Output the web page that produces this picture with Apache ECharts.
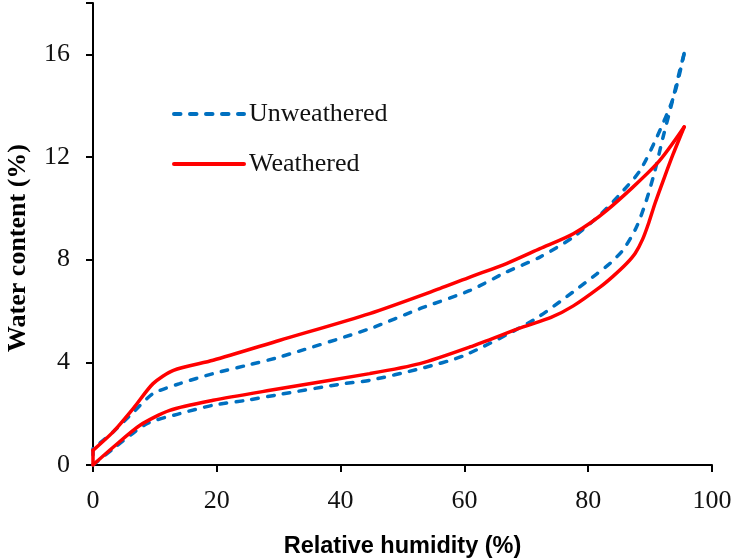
<!DOCTYPE html>
<html>
<head>
<meta charset="utf-8">
<script src="https://cdn.jsdelivr.net/npm/echarts@6/dist/echarts.min.js"></script>
<style>html,body{margin:0;padding:0;background:#fff;}#c{width:731px;height:559px;}</style>
</head>
<body>
<div id="c"></div>
<script>
// Relative humidity (%) / water content (%) readings
const unwAdsX = [0, 3.3, 8.7, 14, 19.4, 24.8, 30.2, 40, 44.7, 52.8, 60, 71.1, 77.6, 81.4, 83.5, 85.7, 87.8, 89.4, 90.8, 92.1, 93.5, 94.8, 95.5];
const unwAdsY = [0, 0.64, 1.61, 2.0, 2.33, 2.52, 2.75, 3.15, 3.3, 3.75, 4.27, 5.64, 6.75, 7.45, 7.85, 8.4, 9.27, 10.31, 11.48, 12.78, 14.08, 15.38, 16.03];
const unwDesX = [95.5, 93.8, 91.1, 88.4, 85.7, 82.1, 77.6, 72.2, 66.8, 60.9, 52.8, 44.7, 30.2, 24.8, 19.4, 14, 9.7, 6.5, 3.3, 0];
const unwDesY = [16.03, 14.34, 12.78, 11.48, 10.7, 9.79, 8.88, 8.1, 7.52, 6.8, 6.09, 5.31, 4.21, 3.88, 3.56, 3.17, 2.78, 2.05, 1.3, 0.64];
const wthAdsX = [0, 3.3, 7.6, 12.4, 19.4, 28.6, 44.7, 52.8, 60.9, 69.5, 74, 77.6, 81.9, 84, 86.2, 87.6, 88.8, 89.8, 90.8, 92.3, 93.7, 95.5];
const wthAdsY = [0, 0.7, 1.55, 2.13, 2.52, 2.91, 3.56, 3.95, 4.6, 5.38, 5.75, 6.2, 6.93, 7.35, 7.85, 8.25, 8.8, 9.45, 10.2, 11.2, 12.1, 13.17];
const wthDesX = [95.5, 91.1, 83, 77.6, 72.2, 66.8, 60.9, 56, 44.7, 30.2, 19.4, 13, 9.7, 6.5, 3.3, 0];
const wthDesY = [13.17, 11.74, 9.92, 9.01, 8.43, 7.85, 7.32, 6.87, 5.9, 4.86, 4.08, 3.69, 3.17, 2.2, 1.3, 0.57];

const xTicks = [0, 20, 40, 60, 80, 100];
const yTicks = [0, 4, 8, 12, 16];
const seriesNames = ['Unweathered', 'Weathered'];

function pairs(xs, ys) { return xs.map((x, i) => [x, ys[i]]); }
// closing segment: end of desorption branch back to start of adsorption branch
function closing(desX, desY, adsX, adsY) {
  const n = desX.length - 1;
  return [[desX[n], desY[n]], [adsX[0], adsY[0]]];
}

const blueStyle = { color: '#0070C0', width: 3.5, type: [6.5, 9.5], cap: 'round' };
const redStyle = { color: '#FF0000', width: 3.5, type: 'solid', cap: 'round' };

function mk(name, data, ls, smooth) {
  return {
    name: name, type: 'line', data: data, smooth: smooth,
    showSymbol: false, symbol: 'none', lineStyle: ls, itemStyle: { color: ls.color },
    animation: false, z: name === 'Weathered' ? 3 : 2
  };
}

const serif = 'Liberation Serif';
const chart = echarts.init(document.getElementById('c'));
chart.setOption({
  animation: false,
  grid: { left: 93, right: 19, top: 3, bottom: 94, containLabel: false, outerBoundsMode: 'none' },
  legend: {
    data: seriesNames, orient: 'vertical', left: 167, top: 96, itemGap: 24,
    itemWidth: 70, itemHeight: 3,
    lineStyle: { width: 4 },
    textStyle: { fontFamily: serif, fontSize: 26, lineHeight: 26, color: '#111' }
  },
  xAxis: {
    type: 'value', min: 0, max: 100, interval: 20,
    name: 'Relative humidity (%)', nameLocation: 'middle', nameGap: 70,
    nameTextStyle: { fontFamily: 'Liberation Sans', fontWeight: 'bold', fontSize: 23.5, color: '#000' },
    axisLine: { lineStyle: { color: '#000', width: 2 } },
    axisTick: { show: true, inside: false, length: 7, lineStyle: { color: '#000', width: 2 } },
    axisLabel: { margin: 23, fontFamily: serif, fontSize: 26, color: '#111',
      formatter: v => xTicks.includes(v) ? String(v) : '' },
    splitLine: { show: false }
  },
  yAxis: {
    type: 'value', min: 0, max: 18, interval: 4,
    name: 'Water content (%)', nameLocation: 'middle', nameGap: 62, nameRotate: 90,
    nameTextStyle: { fontFamily: serif, fontWeight: 'bold', fontSize: 26, color: '#000', padding: [0, 28, 0, 0] },
    axisLine: { show: true, lineStyle: { color: '#000', width: 2 } },
    axisTick: { show: true, inside: false, length: 7, lineStyle: { color: '#000', width: 2 } },
    axisLabel: { margin: 23, fontFamily: serif, fontSize: 26, color: '#111',
      formatter: v => yTicks.includes(v) ? String(v) : '' },
    splitLine: { show: false }
  },
  series: [
    mk('Unweathered', pairs(unwAdsX, unwAdsY), blueStyle, 0.25),
    mk('Unweathered', pairs(unwDesX, unwDesY), blueStyle, 0.25),
    mk('Unweathered', closing(unwDesX, unwDesY, unwAdsX, unwAdsY), blueStyle, false),
    mk('Weathered', pairs(wthAdsX, wthAdsY), redStyle, 0.25),
    mk('Weathered', pairs(wthDesX, wthDesY), redStyle, 0.25),
    mk('Weathered', closing(wthDesX, wthDesY, wthAdsX, wthAdsY), redStyle, false)
  ]
});
</script>
</body>
</html>
